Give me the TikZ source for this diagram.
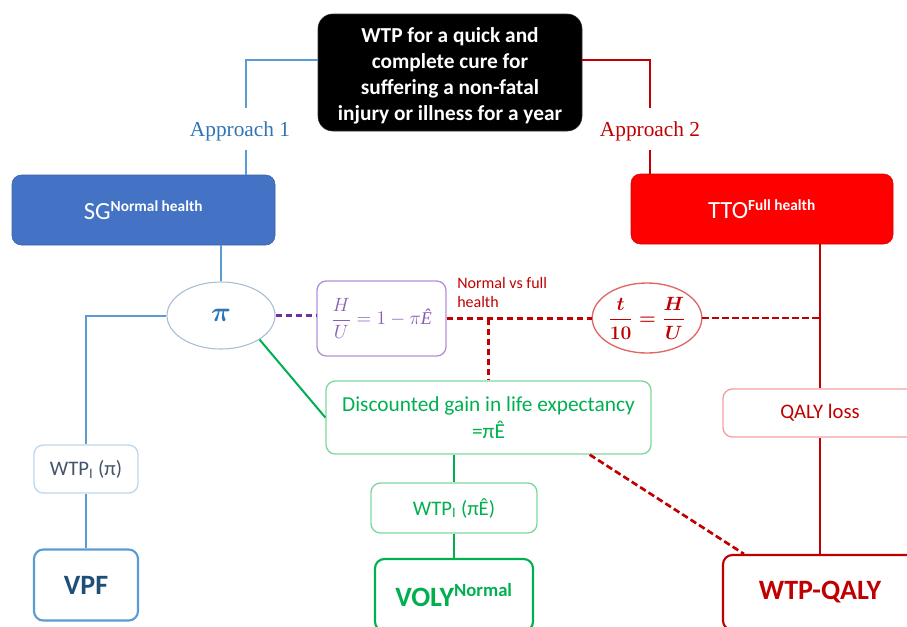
\documentclass[tikz,border=0pt]{standalone}
\usepackage{amsmath}
\usepackage{fontspec}
\setmainfont{Carlito}
\newfontfamily\apfont{Liberation Serif}
\usetikzlibrary{shapes.geometric,calc}
\definecolor{bline}{HTML}{5B9BD5}
\definecolor{btext}{HTML}{2E75B6}
\definecolor{sgfill}{HTML}{4472C4}
\definecolor{rline}{HTML}{C00000}
\definecolor{ttofill}{HTML}{FF0000}
\definecolor{gline}{HTML}{00B050}
\definecolor{gborder}{HTML}{7ED8A0}
\definecolor{purp}{HTML}{7030A0}
\definecolor{purpborder}{HTML}{B490D8}
\definecolor{purptext}{HTML}{8A5CB8}
\definecolor{piborder}{HTML}{A8BCD4}
\definecolor{wtpborder}{HTML}{BDD7EE}
\definecolor{wtptext}{HTML}{44546A}
\definecolor{vpftext}{HTML}{1F4E79}
\definecolor{qborder}{HTML}{F4A0A0}
\definecolor{tborder}{HTML}{E06666}
\begin{document}
\begin{tikzpicture}[x=0.75pt,y=-0.75pt,
  box/.style={draw, rounded corners=7pt, inner sep=0pt, align=center},
  conn/.style={line width=1.5pt},
  dconn/.style={line width=2pt, dash pattern=on 5pt off 2.5pt},
  aplabel/.style={font=\apfont\fontsize{16}{19}\selectfont, inner sep=0pt},
  bigtxt/.style={font=\fontsize{21}{25}\selectfont\bfseries},
  midtxt/.style={font=\fontsize{15.5}{19}\selectfont},
]
\useasboundingbox (0,0) rectangle (907,626);

% nodes
\node[box, fill=black, draw=black!80, text=white, rounded corners=11pt,
      minimum width=198pt, minimum height=87.75pt] (title) at (450,72.5) {};
\node[align=center, inner sep=0pt, text=white, font=\fontsize{16}{19.5}\selectfont\bfseries] (titletxt) at (450,76)
  {WTP for a quick and\\complete cure for\\suffering a non-fatal\\injury or illness for a year};

\node[aplabel, text=btext] (ap1) at (240,131) {Approach 1};
\node[aplabel, text=rline] (ap2) at (650,131) {Approach 2};

\node[box, fill=sgfill, draw=sgfill!85!black, text=white, minimum width=197.25pt, minimum height=52.5pt,
      font=\fontsize{18.5}{22}\selectfont] (sg) at (143.5,210)
  {SG\textsuperscript{\bfseries\fontsize{11.5}{13}\selectfont Normal health}};
\node[box, fill=ttofill, draw=ttofill!85!black, text=white, minimum width=196.5pt, minimum height=52.5pt,
      font=\fontsize{18.5}{22}\selectfont] (tto) at (762,209)
  {TTO\textsuperscript{\bfseries\fontsize{11.5}{13}\selectfont Full health}};

\node[ellipse, draw=piborder, line width=0.8pt, inner sep=0pt, minimum width=81pt, minimum height=50.25pt,
      text=btext, font=\fontsize{20}{24}\selectfont] (pi) at (221,315.5) {$\boldsymbol{\pi}$};

\node[box, draw=purpborder, line width=1pt, text=purptext, minimum width=96.75pt, minimum height=56.25pt,
      font=\fontsize{13.5}{16}\selectfont] (hu) at (381.5,318.5)
  {$\dfrac{H}{U} = 1 - \pi${\apfont\itshape Ê}};

\node[ellipse, draw=tborder, line width=1pt, inner sep=0pt, minimum width=79.5pt, minimum height=52.5pt,
      text=rline, font=\fontsize{13.5}{16}\selectfont] (tten) at (647,318)
  {$\boldsymbol{\dfrac{t}{10} = \dfrac{H}{U}}$};

\node[anchor=north west, inner sep=0pt, align=left, text=rline, font=\fontsize{12}{14}\selectfont] (nvf) at (457,277)
  {Normal vs full\\health};

\node[box, draw=gborder, line width=1pt, text=gline, minimum width=243.75pt, minimum height=54.75pt,
      font=\fontsize{16}{20}\selectfont] (disc) at (488.5,417.5)
  {Discounted gain in life expectancy\\=πÊ};

\node[box, draw=wtpborder, line width=1pt, text=wtptext, minimum width=78pt, minimum height=36pt, midtxt] (wtp1) at (86,469)
  {WTP\textsubscript{I} (π)};
\node[box, draw=bline, line width=1.6pt, text=vpftext, minimum width=78pt, minimum height=53.25pt, bigtxt] (vpf) at (86,585)
  {VPF};

\node[box, draw=gborder, line width=1pt, text=gline, minimum width=124.5pt, minimum height=37.5pt, midtxt] (wtp2) at (454,508)
  {WTP\textsubscript{I} (πÊ)};
\node[box, draw=gline, line width=1.6pt, text=gline, minimum width=118.5pt, minimum height=54pt, bigtxt] (voly) at (454,595)
  {VOLY\textsuperscript{\fontsize{14}{16}\selectfont Normal}};

\node[box, draw=qborder, line width=1pt, text=rline, minimum width=145.5pt, minimum height=36pt, midtxt] (qaly) at (820,413)
  {QALY loss};
\node[box, draw=rline, line width=1.6pt, text=rline, minimum width=145.5pt, minimum height=56.25pt, bigtxt] (wtpq) at (820,592.5)
  {WTP-QALY};

% coordinates
\coordinate (b0) at (246,60);
\coordinate (b1) at (246,108);
\coordinate (b2) at (246,150);
\coordinate (r0) at (650,60);
\coordinate (r1) at (650,108);
\coordinate (r2) at (650,150);

% blue branch
\draw[conn, bline] (title.west |- b0) -- (b0) -- (b1);
\draw[conn, bline] (b2) -- (b2 |- sg.north);
\draw[conn, bline] (pi.north |- sg.south) -- (pi.north);
\draw[conn, bline] (pi.west) -| (wtp1.north);
\draw[conn, bline] (wtp1.south) -- (vpf.north);

% red branch
\draw[conn, rline] (title.east |- r0) -- (r0) -- (r1);
\draw[conn, rline] (r2) -- (r2 |- tto.north);
\draw[conn, rline] (qaly.north |- tto.south) -- (qaly.north);
\draw[conn, rline] (qaly.south) -- (wtpq.north);

% dashed links
\draw[dconn, purp] (pi.east) -- (pi.east -| hu.west);
\draw[dconn, rline] (hu.east) -- (hu.east -| tten.west);
\draw[dconn, rline] (tten.east) -- (tten.east -| qaly.north);
\draw[dconn, rline] (disc.north |- hu.east) -- (disc.north);
\draw[dconn, rline] ($(disc.south west)!0.81!(disc.south east)$) -- ($(wtpq.north west)+(22,0)$);

% green branch
\draw[conn, gline] (pi.south east) -- (disc.west);
\draw[conn, gline] (wtp2.north |- disc.south) -- (wtp2.north);
\draw[conn, gline] (wtp2.south) -- (voly.north);
\end{tikzpicture}
\end{document}
